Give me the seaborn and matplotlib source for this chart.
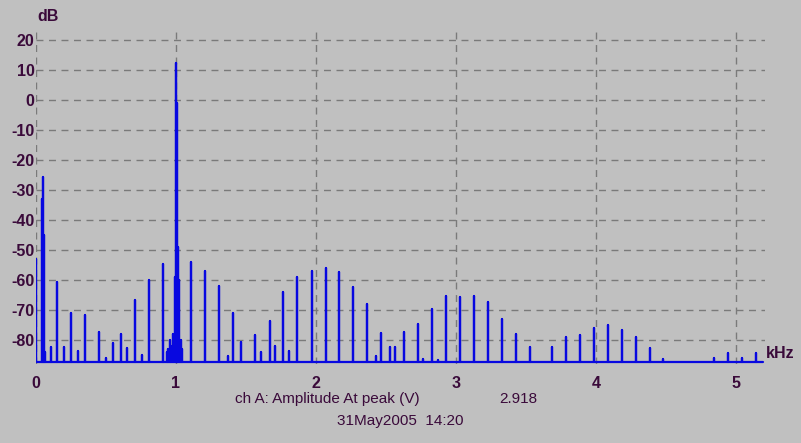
import matplotlib
matplotlib.use("Agg")
import matplotlib.pyplot as plt
import seaborn as sns
import pandas as pd

# spectrum lines (kHz, dB)
peak_freq = [0.0, 0.045, 0.05, 0.055, 0.065, 0.105, 0.15, 0.2, 0.25, 0.3, 0.35,
             0.45, 0.5, 0.55, 0.61, 0.65, 0.71, 0.755, 0.81, 0.91, 0.935, 0.945,
             0.955, 0.965, 0.975, 0.99, 1.0, 1.006, 1.013, 1.02, 1.03, 1.035,
             1.045, 1.11, 1.21, 1.307, 1.37, 1.41, 1.467, 1.567, 1.61, 1.671,
             1.71, 1.767, 1.81, 1.867, 1.969, 2.069, 2.167, 2.267, 2.367, 2.426,
             2.467, 2.53, 2.567, 2.63, 2.726, 2.767, 2.829, 2.874, 2.931, 3.029,
             3.129, 3.231, 3.326, 3.429, 3.526, 3.688, 3.786, 3.886, 3.986,
             4.088, 4.188, 4.288, 4.386, 4.48, 4.845, 4.943, 5.043, 5.143]
peak_db = [-53, -33, -25.8, -45, -84, -82.2, -60.6, -82.3, -71.1, -83.7, -71.7,
           -77.2, -86, -81.1, -78.1, -82.6, -66.7, -85, -60, -54.7, -84, -83,
           -80, -82, -78, -59, 12.4, -1, -49, -60, -82, -80,
           -83, -54.1, -57, -62, -85.3, -71.1, -80.8, -78.3, -84.1, -73.7,
           -81.9, -64.1, -83.6, -58.9, -57, -55.9, -57.4, -62.4, -68.1, -85.3,
           -77.8, -82.2, -82.3, -77.2, -74.8, -86.3, -69.7, -86.5, -65.3, -65.8,
           -65.2, -67.4, -73.1, -78.1, -82.4, -82.2, -78.9, -78.3, -76.1,
           -75, -76.7, -79, -82.8, -86.4, -86.1, -84.2, -85.9, -84.2]
floor_db = -87.3
end_freq = 5.195

x_ticks = [0, 1, 2, 3, 4, 5]
y_ticks = [20, 10, 0, -10, -20, -30, -40, -50, -60, -70, -80]

# build the trace: each line rises from the noise floor and drops back
trace_f, trace_db = [], []
for f, d in zip(peak_freq, peak_db):
    trace_f += [f, f, f]
    trace_db += [floor_db, d, floor_db]
trace_f.append(end_freq)
trace_db.append(floor_db)
df = pd.DataFrame({"kHz": trace_f, "dB": trace_db})

bg = "#c0c0c0"
txt = "#3a0a3a"
sns.set_style("white", rc={"axes.facecolor": bg, "figure.facecolor": bg})
plt.rcParams["font.family"] = ["Liberation Sans", "DejaVu Sans"]

W, H = 801, 443
fig = plt.figure(figsize=(W / 100, H / 100), dpi=100)
# axes placed in pixel terms: x 36..765, y 28..364
ax = fig.add_axes([36 / W, 1 - 364 / H, (765 - 36) / W, (364 - 28) / H])

sns.lineplot(data=df, x="kHz", y="dB", sort=False, estimator=None,
             color="#0808e0", linewidth=1.6, ax=ax)

ax.set_xlim(0, (765 - 36) / 140)
ax.set_ylim(-88, 24)
ax.set_xticks(x_ticks)
ax.set_yticks(y_ticks)
ax.set_xticklabels([str(t) for t in x_ticks], fontweight="bold")
ax.set_yticklabels([str(t) for t in y_ticks], fontweight="bold")
ax.grid(True, color="#7a7a7a", linestyle=(0, (5, 4)), linewidth=1)
ax.set_axisbelow(True)
for s in ax.spines.values():
    s.set_visible(False)
ax.tick_params(axis="both", length=0, labelsize=11.5, colors=txt)
ax.tick_params(axis="x", pad=8.5)
ax.tick_params(axis="y", pad=1)
ax.set_xlabel("")
ax.set_ylabel("")

def px(x, y):
    return x / W, 1 - y / H

fig.text(*px(37, 21), "dB", color=txt, fontsize=11.5, fontweight="bold",
         ha="left", va="baseline")
fig.text(*px(766, 358), "kHz", color=txt, fontsize=11.5, fontweight="bold",
         ha="left", va="baseline")
fig.text(*px(327, 403), "ch A: Amplitude At peak (V)", color=txt, fontsize=11,
         ha="center", va="baseline")
fig.text(*px(499, 403), "2.918", color=txt, fontsize=11, ha="left", va="baseline")
fig.text(*px(400, 425), "31May2005  14:20", color=txt, fontsize=11,
         ha="center", va="baseline")

fig.savefig("out.png", dpi=100, facecolor=bg)
